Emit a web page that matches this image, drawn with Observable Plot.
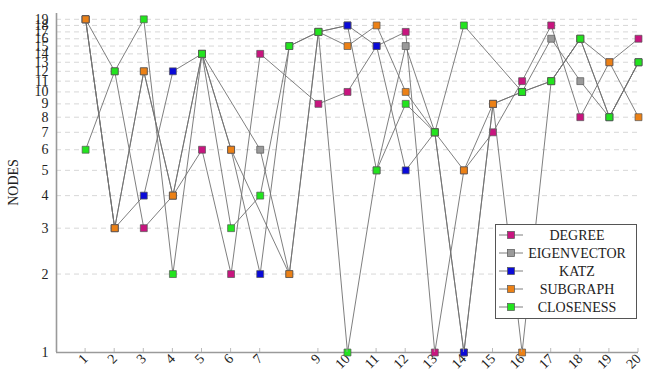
<!DOCTYPE html>
<html><head><meta charset="utf-8">
<script src="https://cdn.jsdelivr.net/npm/d3@7"></script>
<script src="https://cdn.jsdelivr.net/npm/@observablehq/plot@0.6"></script>
<style>
body{margin:0;background:#fff;}
#chart{width:645px;height:378px;}
</style></head><body><div id="chart"></div>
<script>
const seriesNames = ["DEGREE", "EIGENVECTOR", "KATZ", "SUBGRAPH", "CLOSENESS"];
const seriesColors = ["#c8157f", "#9a9a9a", "#0a0ad8", "#ec8116", "#22e41e"];
const xValues = [1,2,3,4,5,6,7,8,9,10,11,12,13,14,15,16,17,18,19,20];
const degree      = [19,12,3,4,6,2,14,null,9,10,15,17,1,5,7,11,18,8,13,16];
const eigenvector = [19,3,12,4,14,null,6,2,17,18,5,15,7,1,9,10,16,11,8,13];
const katz        = [19,3,4,12,14,6,2,15,17,18,15,5,7,1,9,10,11,16,8,13];
const subgraph    = [19,3,12,4,14,6,null,2,17,15,18,10,7,5,9,1,11,16,13,8];
const closeness   = [6,12,19,2,14,3,4,15,17,1,5,9,7,18,null,10,11,16,8,13];
const xTicks = [1,2,3,4,5,6,7,9,10,11,12,13,14,15,16,17,18,19,20];
const yTicks = [1,2,3,4,5,6,7,8,9,10,11,12,13,14,15,16,17,18,19];
const yLabel = "NODES";

const seriesValues = [degree, eigenvector, katz, subgraph, closeness];
const rows = [];
seriesNames.forEach((s, i) => seriesValues[i].forEach((v, j) => {
  if (v != null) rows.push({series: s, x: xValues[j], y: v});
}));

const marks = [
  Plot.ruleY(yTicks, {y: d => d, stroke: "#d2d2d2", strokeDasharray: "5,4", strokeWidth: 0.9}),
  Plot.axisY({ticks: yTicks, tickFormat: d => String(d), tickSize: 0, tickPadding: 8, label: null, fill: "#222"}),
  Plot.axisX({ticks: xTicks, tickFormat: d => String(d), tickRotate: -45, tickSize: 0, tickPadding: 4, label: null, fill: "#222"}),
  Plot.ruleX([0], {stroke: "#9a9a9a", strokeWidth: 1.6}),
  Plot.ruleY([1], {stroke: "#9a9a9a", strokeWidth: 1.6})
];
seriesNames.forEach((s, i) => {
  const d = rows.filter(r => r.series === s);
  marks.push(Plot.line(d, {x: "x", y: "y", stroke: "#707070", strokeWidth: 0.9}));
  marks.push(Plot.dot(d, {x: "x", y: "y", symbol: "square", r: 3.9, fill: seriesColors[i], stroke: "#555", strokeWidth: 0.7}));
});

const plot = Plot.plot({
  width: 645, height: 378,
  marginLeft: 56, marginRight: 7, marginTop: 13, marginBottom: 26,
  x: {type: "linear", domain: [0, 20]},
  y: {type: "log", domain: [1, 20]},
  style: {fontFamily: "'Liberation Serif', 'DejaVu Serif', serif", fontSize: "14px", background: "#fff", overflow: "visible"},
  marks
});
document.getElementById("chart").appendChild(plot);

const svg = d3.select(plot);
const xs = plot.scale("x"), ys = plot.scale("y");
const y0 = ys.apply(1);
// small inward x ticks
svg.append("g").selectAll("line").data(xTicks).join("line")
  .attr("x1", d => xs.apply(d)).attr("x2", d => xs.apply(d))
  .attr("y1", y0).attr("y2", y0 - 4)
  .attr("stroke", "#aaa").attr("stroke-width", 0.8);
// y label
svg.append("text")
  .attr("transform", `translate(13,${(ys.apply(1) + ys.apply(20)) / 2}) rotate(-90)`)
  .attr("text-anchor", "middle").attr("dominant-baseline", "central")
  .attr("fill", "#222").style("font-size", "14px")
  .text(yLabel);
// legend
const lg = svg.append("g");
lg.append("rect").attr("x", 495.5).attr("y", 224.5).attr("width", 141).attr("height", 94)
  .attr("fill", "#fff").attr("stroke", "#555").attr("stroke-width", 1);
seriesNames.forEach((s, i) => {
  const yy = 235 + i * 18;
  lg.append("line").attr("x1", 499).attr("x2", 523).attr("y1", yy).attr("y2", yy)
    .attr("stroke", "#707070").attr("stroke-width", 0.9);
  lg.append("rect").attr("x", 507.5).attr("y", yy - 3.5).attr("width", 7).attr("height", 7)
    .attr("fill", seriesColors[i]).attr("stroke", "#555").attr("stroke-width", 0.7);
  lg.append("text").attr("x", 577).attr("y", yy).attr("text-anchor", "middle")
    .attr("dominant-baseline", "central").attr("fill", "#222").style("font-size", "14px").text(s);
});
</script></body></html>
